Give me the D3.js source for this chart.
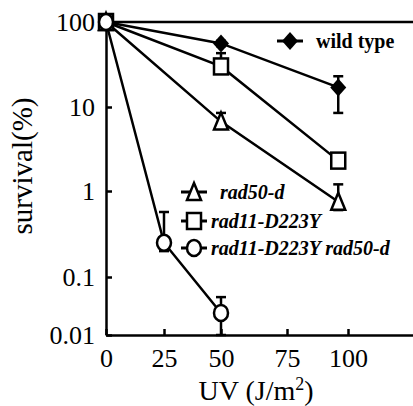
<!DOCTYPE html>
<html>
<head>
<meta charset="utf-8">
<script src="https://cdn.jsdelivr.net/npm/d3@7"></script>
<style>
body { margin: 0; background: #fff; }
</style>
</head>
<body>
<div id="chart"></div>
<script>
let w = 413;
let h = 406;
const serif = '"Liberation Serif", "DejaVu Serif", serif';

// UV dose (J/m2) and survival (%)
const wildType = [[0, 100], [50, 56], [96, 17]];
const rad50 = [[0, 100], [50, 6.7], [96, 0.75]];
const rad11 = [[0, 100], [50, 30], [96, 2.3]];
const dbl = [[0, 100], [25, 0.25], [50, 0.024]];

// error bars [dose, low, high]
const wildErr = [[50, 52, 60], [96, 8.5, 23]];
const rad50Err = [[50, 5.5, 8.5], [96, 0.6, 1.2]];
const rad11Err = [[50, 27, 43]];
const dblErr = [[25, 0.2, 0.57], [50, 0.01, 0.045]];

const xTicks = [0, 25, 50, 75, 100];
const yTicks = [0.01, 0.1, 1, 10, 100];

let svg = d3.select('#chart')
  .append('svg')
  .attr('width', w)
  .attr('height', h)
  .style('font-family', serif);

// the scan is a bit uneven, so the scales are piecewise
let x = d3.scaleLinear()
  .domain([0, 25, 50, 75, 100, 127])
  .range([106, 164, 221, 287, 348, 413]);
let y = d3.scaleLog()
  .domain([0.01, 0.1, 1, 10, 100])
  .range([335, 277, 191, 107, 22]);

// top border line
svg.append('line')
  .attr('x1', 106).attr('x2', w)
  .attr('y1', y(100)).attr('y2', y(100))
  .attr('stroke', '#000').attr('stroke-width', 2.5);

let xAxis = d3.axisBottom(x)
  .tickValues(xTicks)
  .tickFormat(d3.format('d'))
  .tickSizeInner(-6)
  .tickSizeOuter(0)
  .tickPadding(14);
let gx = svg.append('g')
  .attr('transform', 'translate(0,' + y(0.01) + ')')
  .call(xAxis);

let yAxis = d3.axisLeft(y)
  .tickValues(yTicks)
  .tickFormat(d => d >= 1 ? d3.format('d')(d) : String(d))
  .tickSizeInner(-6)
  .tickSizeOuter(0)
  .tickPadding(11);
let gy = svg.append('g')
  .attr('transform', 'translate(106,0)')
  .call(yAxis);

[gx, gy].forEach(g => {
  g.attr('font-family', serif).attr('font-size', 26);
  g.selectAll('text').attr('fill', '#000');
  g.selectAll('line').attr('stroke-width', 2.5);
  g.select('.domain').attr('stroke-width', 2.5);
});

// axis titles
let xt = svg.append('text')
  .attr('x', 256).attr('y', 400)
  .attr('text-anchor', 'middle')
  .attr('font-family', serif)
  .attr('font-size', 28)
  .text('UV (J/m');
xt.append('tspan').attr('dy', -10).attr('font-size', 18).text('2');
xt.append('tspan').attr('dy', 10).text(')');

svg.append('text')
  .attr('transform', 'translate(32,166) rotate(-90)')
  .attr('text-anchor', 'middle')
  .attr('font-family', serif)
  .attr('font-size', 29)
  .text('survival(%)');

let line = d3.line().x(d => x(d[0])).y(d => y(d[1]));

function errBars(data) {
  data.forEach(e => {
    let g = svg.append('g').attr('stroke', '#000').attr('stroke-width', 2.5);
    g.append('line').attr('x1', x(e[0])).attr('x2', x(e[0]))
      .attr('y1', y(e[1])).attr('y2', y(e[2]));
    g.append('line').attr('x1', x(e[0]) - 5).attr('x2', x(e[0]) + 5)
      .attr('y1', y(e[2])).attr('y2', y(e[2]));
    g.append('line').attr('x1', x(e[0]) - 5).attr('x2', x(e[0]) + 5)
      .attr('y1', y(e[1])).attr('y2', y(e[1]));
  });
}

function marker(g, kind, cx, cy) {
  if (kind == 'diamond') {
    g.append('path')
      .attr('d', 'M' + cx + ',' + (cy - 9) + 'L' + (cx + 8) + ',' + cy + 'L' + cx + ',' + (cy + 9) + 'L' + (cx - 8) + ',' + cy + 'Z')
      .attr('fill', '#000');
  } else if (kind == 'square') {
    g.append('rect')
      .attr('x', cx - 7).attr('y', cy - 8).attr('width', 14).attr('height', 16)
      .attr('fill', '#fff').attr('stroke', '#000').attr('stroke-width', 2.5);
  } else if (kind == 'triangle') {
    g.append('path')
      .attr('d', 'M' + cx + ',' + (cy - 9) + 'L' + (cx + 7) + ',' + (cy + 8) + 'L' + (cx - 7) + ',' + (cy + 8) + 'Z')
      .attr('fill', '#fff').attr('stroke', '#000').attr('stroke-width', 2.5);
  } else {
    g.append('ellipse')
      .attr('cx', cx).attr('cy', cy).attr('rx', 7).attr('ry', 8)
      .attr('fill', '#fff').attr('stroke', '#000').attr('stroke-width', 2.5);
  }
}

let series = [
  { data: wildType, err: wildErr, kind: 'diamond' },
  { data: rad50, err: rad50Err, kind: 'triangle' },
  { data: rad11, err: rad11Err, kind: 'square' },
  { data: dbl, err: dblErr, kind: 'circle' }
];

series.forEach(s => {
  svg.append('path')
    .datum(s.data)
    .attr('d', line)
    .attr('fill', 'none')
    .attr('stroke', '#000')
    .attr('stroke-width', 2.5);
});
series.forEach(s => errBars(s.err));
series.forEach(s => {
  let g = svg.append('g');
  s.data.forEach(d => marker(g, s.kind, x(d[0]), y(d[1])));
});

// legends
function legendItem(kind, cx, cy, label, tx, italic) {
  let g = svg.append('g');
  g.append('line').attr('x1', cx - 13).attr('x2', cx + 13)
    .attr('y1', cy).attr('y2', cy)
    .attr('stroke', '#000').attr('stroke-width', 3);
  marker(g, kind, cx, cy);
  g.append('text')
    .attr('x', tx).attr('y', cy + 7)
    .attr('font-family', serif)
    .attr('font-size', 20)
    .attr('font-weight', 'bold')
    .attr('font-style', italic ? 'italic' : 'normal')
    .text(label);
}
legendItem('diamond', 290, 41, 'wild type', 316, false);
legendItem('triangle', 194, 192, 'rad50-d', 220, true);
legendItem('square', 194, 221, 'rad11-D223Y', 211, true);
legendItem('circle', 194, 248, 'rad11-D223Y rad50-d', 211, true);
</script>
</body>
</html>
